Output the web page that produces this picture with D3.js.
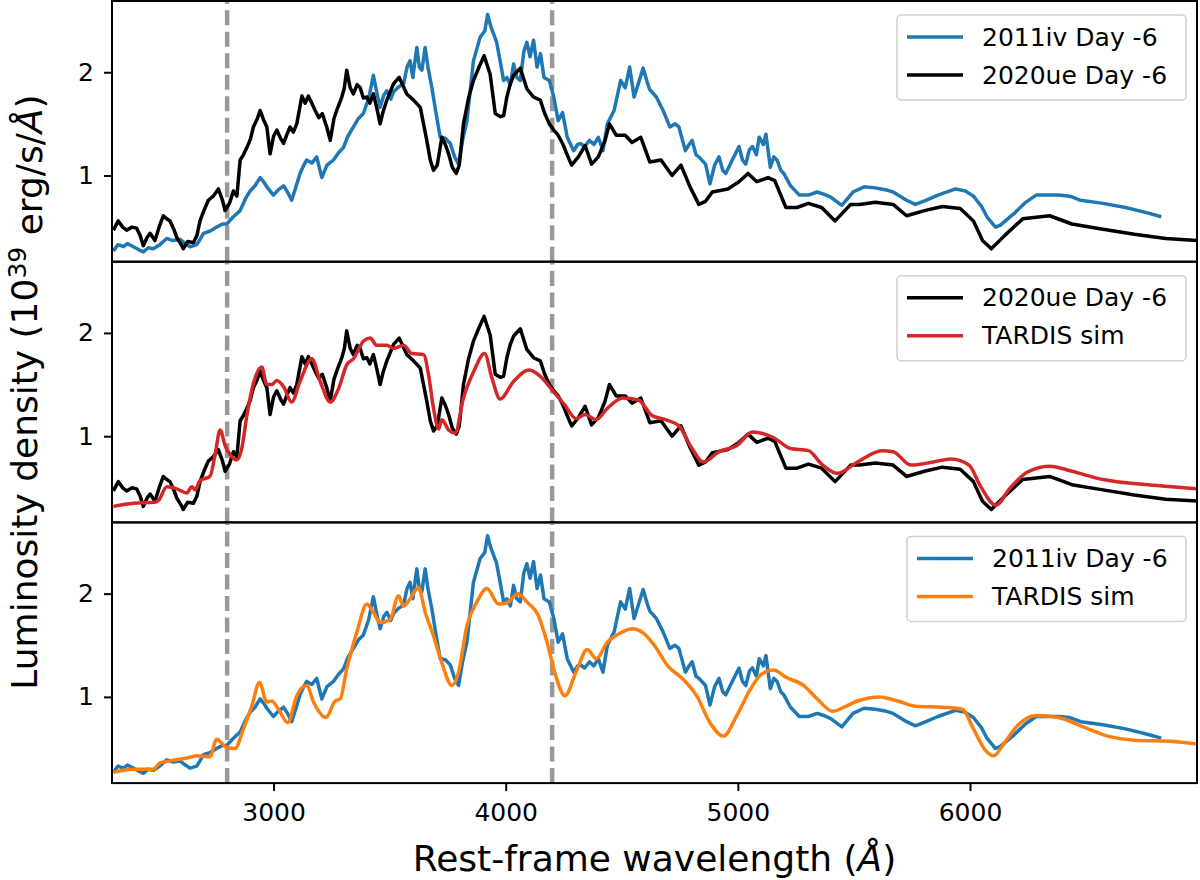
<!DOCTYPE html>
<html>
<head>
<meta charset="utf-8">
<script src="https://cdn.jsdelivr.net/npm/d3@7"></script>
<style>
  body { margin: 0; background: #fff; }
  text { font-family: "DejaVu Sans", sans-serif; }
</style>
</head>
<body>
<svg id="chart" width="1200" height="880"></svg>
<script>
// spectra: [wavelength (A), L (1e39 erg/s/A)]
var sn2011iv = [
  [2310,0.27],[2330,0.33],[2353,0.31],[2370,0.34],[2396,0.31],[2420,0.28],[2439,0.26],[2460,0.30],
  [2482,0.29],[2510,0.33],[2540,0.39],[2565,0.37],[2597,0.38],[2620,0.34],[2640,0.31],[2669,0.33],
  [2683,0.38],[2698,0.44],[2725,0.46],[2755,0.50],[2780,0.53],[2798,0.53],[2827,0.60],[2856,0.66],
  [2880,0.78],[2899,0.85],[2920,0.90],[2942,0.98],[2960,0.93],[2971,0.89],[2999,0.81],[3020,0.86],
  [3043,0.90],[3060,0.84],[3078,0.76],[3095,0.88],[3114,1.02],[3130,1.10],[3143,1.15],[3165,1.12],
  [3186,1.18],[3200,1.05],[3208,0.98],[3230,1.10],[3258,1.15],[3280,1.22],[3301,1.27],[3320,1.38],
  [3344,1.47],[3365,1.55],[3387,1.60],[3410,1.75],[3430,1.97],[3445,1.80],[3459,1.66],[3475,1.78],
  [3488,1.82],[3505,1.74],[3517,1.81],[3540,1.86],[3560,1.89],[3575,2.05],[3588,2.11],[3600,1.95],
  [3617,2.24],[3628,2.05],[3639,2.02],[3653,2.24],[3665,2.05],[3682,1.85],[3700,1.60],[3718,1.37],
  [3740,1.36],[3761,1.31],[3780,1.18],[3797,1.11],[3815,1.35],[3833,1.53],[3861,2.11],[3890,2.34],
  [3910,2.40],[3922,2.56],[3935,2.45],[3948,2.37],[3960,2.30],[3976,2.11],[3991,1.92],[4005,1.95],
  [4020,1.88],[4034,2.08],[4048,1.95],[4063,1.92],[4078,2.20],[4091,2.29],[4105,2.15],[4120,2.31],
  [4135,2.05],[4150,2.18],[4165,1.95],[4188,1.92],[4207,1.76],[4226,1.53],[4245,1.61],[4265,1.37],
  [4293,1.24],[4310,1.30],[4322,1.31],[4340,1.28],[4361,1.34],[4380,1.30],[4399,1.37],[4419,1.24],
  [4438,1.50],[4467,1.63],[4495,1.92],[4515,1.85],[4534,2.05],[4553,1.76],[4570,1.88],[4592,2.04],
  [4610,1.90],[4621,1.83],[4649,1.76],[4678,1.63],[4707,1.47],[4730,1.50],[4746,1.47],[4774,1.24],
  [4790,1.30],[4803,1.34],[4820,1.20],[4832,1.18],[4861,1.11],[4880,0.92],[4900,1.10],[4919,1.18],
  [4935,1.05],[4948,1.02],[4976,1.15],[5005,1.28],[5020,1.15],[5034,1.11],[5050,1.25],[5063,1.28],
  [5080,1.20],[5092,1.37],[5110,1.30],[5121,1.40],[5140,1.08],[5155,1.18],[5169,1.15],[5185,1.05],
  [5198,1.02],[5227,0.90],[5265,0.81],[5304,0.81],[5342,0.84],[5370,0.82],[5400,0.79],[5448,0.71],
  [5496,0.84],[5544,0.89],[5592,0.88],[5640,0.86],[5669,0.84],[5727,0.76],[5765,0.72],[5810,0.76],
  [5862,0.81],[5938,0.87],[5980,0.85],[6015,0.80],[6050,0.70],[6073,0.60],[6110,0.50],[6131,0.52],
  [6189,0.63],[6240,0.74],[6285,0.81],[6340,0.81],[6381,0.81],[6430,0.80],[6477,0.76],[6573,0.73],
  [6670,0.69],[6760,0.64],[6824,0.60]
];

var sn2020ue = [
  [2310,0.47],[2331,0.56],[2350,0.50],[2367,0.47],[2390,0.50],[2410,0.49],[2425,0.42],[2439,0.32],
  [2455,0.40],[2468,0.44],[2489,0.37],[2510,0.52],[2525,0.61],[2540,0.58],[2554,0.56],[2570,0.48],
  [2583,0.40],[2600,0.34],[2611,0.29],[2630,0.36],[2655,0.35],[2670,0.42],[2683,0.56],[2700,0.66],
  [2719,0.76],[2740,0.80],[2762,0.87],[2780,0.76],[2791,0.66],[2810,0.73],[2827,0.85],[2842,0.80],
  [2856,1.15],[2870,1.20],[2885,1.27],[2900,1.35],[2913,1.47],[2930,1.55],[2942,1.63],[2955,1.55],
  [2971,1.47],[2985,1.21],[3000,1.38],[3014,1.44],[3030,1.36],[3043,1.31],[3058,1.40],[3071,1.47],
  [3085,1.42],[3100,1.50],[3122,1.77],[3136,1.70],[3150,1.77],[3165,1.70],[3179,1.63],[3195,1.56],
  [3210,1.60],[3229,1.47],[3244,1.34],[3260,1.55],[3272,1.63],[3294,1.76],[3305,1.85],[3315,2.02],
  [3330,1.85],[3344,1.79],[3360,1.88],[3373,1.85],[3387,1.75],[3402,1.76],[3415,1.70],[3430,1.79],
  [3445,1.65],[3459,1.50],[3472,1.62],[3488,1.73],[3517,1.89],[3541,1.95],[3560,1.86],[3574,1.79],
  [3603,1.73],[3632,1.66],[3660,1.34],[3675,1.15],[3689,1.05],[3705,1.10],[3725,1.37],[3740,1.30],
  [3754,1.21],[3770,1.08],[3787,1.02],[3800,1.10],[3818,1.50],[3840,1.75],[3861,1.92],[3885,2.05],
  [3907,2.16],[3933,1.98],[3955,1.60],[3976,1.57],[3991,1.58],[4005,1.76],[4020,1.89],[4034,1.97],
  [4063,2.04],[4091,1.84],[4120,1.76],[4149,1.73],[4168,1.60],[4188,1.50],[4207,1.44],[4226,1.39],
  [4245,1.31],[4265,1.20],[4284,1.10],[4313,1.18],[4342,1.29],[4370,1.11],[4399,1.18],[4428,1.34],
  [4447,1.50],[4476,1.39],[4515,1.39],[4544,1.32],[4582,1.37],[4621,1.13],[4669,1.15],[4717,1.00],
  [4755,1.10],[4794,0.89],[4832,0.72],[4861,0.75],[4890,0.84],[4957,0.87],[5005,0.94],[5044,1.02],
  [5082,0.94],[5130,0.98],[5159,0.95],[5207,0.69],[5255,0.69],[5304,0.73],[5361,0.69],[5419,0.56],
  [5486,0.72],[5525,0.72],[5592,0.74],[5669,0.72],[5727,0.61],[5804,0.66],[5881,0.70],[5958,0.68],
  [6015,0.56],[6054,0.37],[6092,0.29],[6150,0.42],[6227,0.58],[6343,0.61],[6439,0.53],[6573,0.48],
  [6708,0.43],[6843,0.39],[6987,0.37]
];

var tardisUe = [
  [2310,0.32],[2396,0.35],[2489,0.36],[2505,0.38],[2540,0.51],[2583,0.49],[2626,0.45],[2648,0.51],
  [2662,0.48],[2683,0.57],[2726,0.61],[2748,0.82],[2770,1.06],[2791,0.91],[2813,0.82],[2841,0.77],
  [2863,0.88],[2885,1.20],[2913,1.51],[2949,1.67],[2971,1.50],[2993,1.50],[3014,1.54],[3043,1.48],
  [3078,1.33],[3114,1.53],[3165,1.75],[3201,1.53],[3244,1.33],[3280,1.46],[3315,1.69],[3344,1.75],
  [3387,1.92],[3416,1.95],[3445,1.88],[3488,1.88],[3517,1.85],[3560,1.88],[3596,1.80],[3646,1.79],
  [3668,1.59],[3689,1.27],[3711,1.07],[3725,1.16],[3754,1.06],[3782,1.03],[3818,1.37],[3861,1.62],
  [3909,1.80],[3941,1.56],[3976,1.36],[4034,1.53],[4101,1.64],[4149,1.58],[4207,1.43],[4255,1.30],
  [4303,1.17],[4342,1.21],[4390,1.16],[4438,1.27],[4505,1.37],[4572,1.35],[4630,1.20],[4688,1.16],
  [4746,1.10],[4803,0.88],[4851,0.75],[4919,0.85],[4996,0.91],[5063,1.04],[5150,0.99],[5227,0.88],
  [5304,0.86],[5361,0.73],[5429,0.64],[5515,0.75],[5621,0.86],[5669,0.85],[5746,0.72],[5842,0.75],
  [5919,0.78],[5996,0.72],[6044,0.52],[6112,0.33],[6170,0.49],[6246,0.65],[6343,0.71],[6439,0.66],
  [6573,0.58],[6766,0.53],[6987,0.49]
];

var tardisIv = [
  [2310,0.27],[2396,0.30],[2482,0.30],[2511,0.36],[2554,0.38],[2633,0.41],[2669,0.43],[2726,0.42],
  [2755,0.59],[2798,0.51],[2834,0.50],[2870,0.69],[2906,0.91],[2939,1.14],[2971,0.95],[2992,0.96],
  [3021,0.88],[3061,0.75],[3100,1.01],[3143,1.11],[3172,0.95],[3226,0.80],[3265,0.96],[3287,0.98],
  [3315,1.27],[3358,1.62],[3402,1.90],[3430,1.82],[3459,1.72],[3502,1.75],[3538,1.98],[3560,1.88],
  [3588,1.95],[3624,2.06],[3653,1.82],[3689,1.59],[3725,1.33],[3768,1.11],[3797,1.24],[3833,1.69],
  [3876,1.92],[3919,2.05],[3969,1.90],[4005,1.91],[4053,2.00],[4091,1.92],[4140,1.79],[4178,1.53],
  [4216,1.20],[4255,1.01],[4303,1.24],[4351,1.46],[4390,1.37],[4438,1.53],[4495,1.62],[4544,1.66],
  [4592,1.62],[4640,1.50],[4698,1.30],[4765,1.17],[4823,1.01],[4880,0.75],[4938,0.62],[4996,0.82],
  [5053,1.07],[5102,1.22],[5154,1.26],[5207,1.19],[5284,1.11],[5342,0.98],[5409,0.86],[5457,0.90],
  [5515,0.96],[5611,1.00],[5688,0.96],[5765,0.91],[5881,0.90],[5967,0.88],[6015,0.69],[6064,0.49],
  [6102,0.43],[6150,0.56],[6208,0.73],[6285,0.82],[6381,0.80],[6477,0.72],[6593,0.62],[6708,0.58],
  [6862,0.57],[6987,0.54]
];

var xTicks = [3000, 4000, 5000, 6000];
var yTicks = [1, 2];
var markLines = [2800, 4200];

// each panel: which spectra, colours, legend names, smooth model or not
var panels = [
  { series: [sn2011iv, sn2020ue], colors: ["#1f77b4", "#000000"], smooth: [false, false], names: ["2011iv Day -6", "2020ue Day -6"] },
  { series: [sn2020ue, tardisUe], colors: ["#000000", "#d62728"], smooth: [false, true], names: ["2020ue Day -6", "TARDIS sim"] },
  { series: [sn2011iv, tardisIv], colors: ["#1f77b4", "#ff7f0e"], smooth: [false, true], names: ["2011iv Day -6", "TARDIS sim"] }
];

var screen = { left: 112, right: 1197, top: 1, panelH: 260.7 };

var svg = d3.select("#chart");

var xScale = d3.scaleLinear()
    .domain([2304, 6978])
    .range([screen.left, screen.right]);

var drawPanel = function(p, i) {
    var top = screen.top + i * screen.panelH;
    var bottom = top + screen.panelH;

    var yScale = d3.scaleLinear()
        .domain([0.165, 2.69])
        .range([bottom, top]);

    var g = svg.append("g");

    g.append("clipPath")
        .attr("id", "clip" + i)
        .append("rect")
        .attr("x", screen.left)
        .attr("y", top)
        .attr("width", screen.right - screen.left)
        .attr("height", screen.panelH);

    var inner = g.append("g").attr("clip-path", "url(#clip" + i + ")");

    // dashed guide lines
    inner.selectAll(".vline")
        .data(markLines)
        .enter()
        .append("line")
        .attr("x1", function(d) { return xScale(d); })
        .attr("x2", function(d) { return xScale(d); })
        .attr("y1", bottom)
        .attr("y2", top)
        .attr("stroke", "#999999")
        .attr("stroke-width", 4.5)
        .attr("stroke-dasharray", "15,6.5");

    p.series.forEach(function(s, k) {
        var line = d3.line()
            .x(function(d) { return xScale(d[0]); })
            .y(function(d) { return yScale(d[1]); })
            .curve(p.smooth[k] ? d3.curveMonotoneX : d3.curveLinear);
        inner.append("path")
            .datum(s)
            .attr("d", line)
            .attr("fill", "none")
            .attr("stroke", p.colors[k])
            .attr("stroke-width", 3.5)
            .attr("stroke-linejoin", "round");
    });

    // y axis
    var yAxis = g.append("g")
        .attr("transform", "translate(" + screen.left + ",0)")
        .call(d3.axisLeft(yScale).tickValues(yTicks).tickFormat(d3.format("d")).tickSize(8).tickPadding(10));
    yAxis.select(".domain").remove();
    yAxis.selectAll("line").attr("stroke-width", 2);
    yAxis.selectAll("text").style("font-size", "25px").attr("fill", "#000");

    if (i == panels.length - 1) {
        var xAxis = g.append("g")
            .attr("transform", "translate(0," + bottom + ")")
            .call(d3.axisBottom(xScale).tickValues(xTicks).tickFormat(d3.format("d")).tickSize(8).tickPadding(12));
        xAxis.select(".domain").remove();
        xAxis.selectAll("line").attr("stroke-width", 2);
        xAxis.selectAll("text").style("font-size", "25px").attr("fill", "#000");
    }

    // frame
    g.append("rect")
        .attr("x", screen.left)
        .attr("y", top)
        .attr("width", screen.right - screen.left)
        .attr("height", screen.panelH)
        .attr("fill", "none")
        .attr("stroke", "#000")
        .attr("stroke-width", 2);

    // legend
    var lx = i == 2 ? 907 : 897;
    var leg = g.append("g");
    leg.append("rect")
        .attr("x", lx)
        .attr("y", top + 14)
        .attr("width", 1186 - lx)
        .attr("height", 85)
        .attr("rx", 4)
        .attr("fill", "#fff")
        .attr("fill-opacity", 0.8)
        .attr("stroke", "#d0d0d0")
        .attr("stroke-width", 1.5);

    p.names.forEach(function(name, k) {
        var yy = top + 36 + k * 38;
        leg.append("line")
            .attr("x1", lx + 10)
            .attr("x2", lx + 66)
            .attr("y1", yy)
            .attr("y2", yy)
            .attr("stroke", p.colors[k])
            .attr("stroke-width", 3.5);
        leg.append("text")
            .attr("x", lx + 85)
            .attr("y", yy)
            .attr("dy", "0.35em")
            .style("font-size", "25px")
            .text(name);
    });
};

panels.forEach(drawPanel);

// axis labels
svg.append("text")
    .attr("x", (screen.left + screen.right) / 2)
    .attr("y", 871)
    .attr("text-anchor", "middle")
    .style("font-size", "36px")
    .html("Rest-frame wavelength (<tspan font-style='italic'>Å</tspan>)");

var midY = screen.top + 1.5 * screen.panelH;
var ylab = svg.append("text")
    .attr("transform", "translate(37," + midY + ") rotate(-90)")
    .attr("text-anchor", "middle")
    .style("font-size", "36px");
ylab.append("tspan").text("Luminosity density (10");
ylab.append("tspan").attr("dy", "-0.45em").style("font-size", "25px").text("39");
ylab.append("tspan").attr("dy", "0.45em").text(" erg/s/");
ylab.append("tspan").attr("font-style", "italic").text("Å");
ylab.append("tspan").text(")");
</script>
</body>
</html>
